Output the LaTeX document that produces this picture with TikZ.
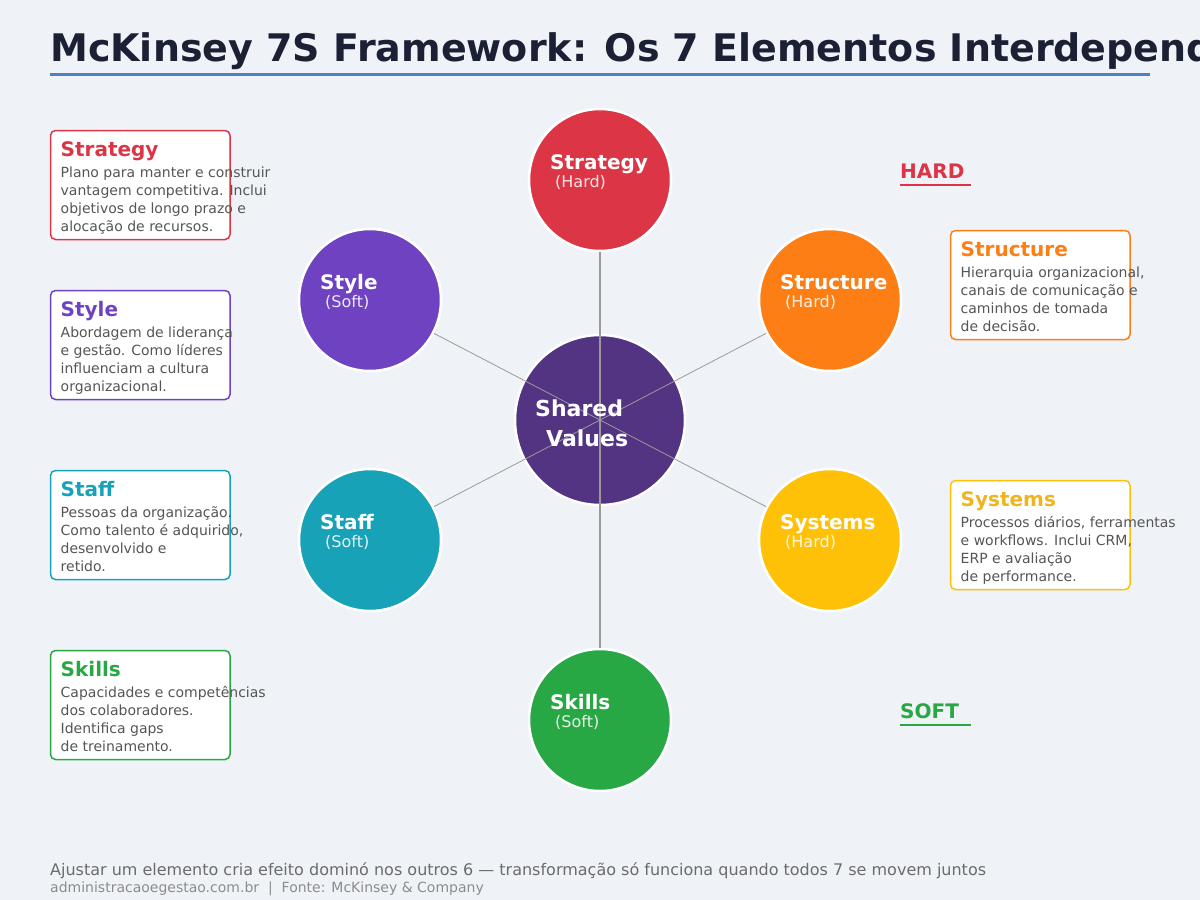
\documentclass[tikz,border=0pt]{standalone}
\usepackage{fontspec}
\setmainfont{DejaVu Sans}
\definecolor{bg}{HTML}{EFF3F8}
\definecolor{titlec}{HTML}{1C2035}
\definecolor{accent}{HTML}{5080C4}
\definecolor{cstrat}{HTML}{DC3545}
\definecolor{cstruct}{HTML}{FD7E14}
\definecolor{csys}{HTML}{FFC107}
\definecolor{csystxt}{HTML}{F0B41C}
\definecolor{cskill}{HTML}{28A745}
\definecolor{cstaff}{HTML}{17A2B8}
\definecolor{cstyle}{HTML}{6F42C1}
\definecolor{cshared}{HTML}{533483}
\definecolor{bodytxt}{HTML}{555555}
\definecolor{linec}{HTML}{9A9A9A}
\definecolor{foot1}{HTML}{6B6B6B}
\definecolor{foot2}{HTML}{8C8C8C}
\usetikzlibrary{calc}
\tikzset{
  circ/.style={circle, minimum size=142pt, inner sep=0pt, draw=white, line width=2.5pt},
  bigcirc/.style={circle, minimum size=170pt, inner sep=0pt, draw=white, line width=2.5pt, fill=cshared},
  cname/.style={anchor=base west, inner sep=0pt, text=white, font=\bfseries\fontsize{20}{24}\selectfont},
  csub/.style={anchor=base west, inner sep=0pt, text=white, text opacity=0.88, font=\fontsize{16}{19}\selectfont},
  infobox/.style={rectangle, rounded corners=5pt, fill=white, line width=1.5pt, minimum width=179.5pt, minimum height=109pt, inner sep=0pt},
  boxtitle/.style={anchor=base west, inner sep=0pt, font=\bfseries\fontsize{20}{24}\selectfont},
  boxbody/.style={anchor=base west, inner sep=0pt, align=left, text=bodytxt, font=\fontsize{14}{18}\selectfont},
  link/.style={draw=linec, line width=1.3pt},
  tag/.style={anchor=base west, inner sep=0pt, font=\bfseries\fontsize{20}{24}\selectfont},
}
\begin{document}
\begin{tikzpicture}[x=1pt,y=-1pt]
\useasboundingbox (0,0) rectangle (1200,900);
\fill[bg] (0,0) rectangle (1200,900);

% title
\node[anchor=base west, inner sep=0pt, text=titlec, font=\bfseries\fontsize{38}{44}\selectfont] (title) at (50,61) {McKinsey 7S Framework: Os 7 Elementos Interdependentes};
\draw[accent, line width=3pt] (50,74) -- (1150,74);

% center
\node[bigcirc] (shared) at (600,420) {};

% outer circles
\node[circ, fill=cstrat] (strategy) at (600,180) {};
\node[circ, fill=cstruct] (structure) at (830,300) {};
\node[circ, fill=csys] (systems) at (830,540) {};
\node[circ, fill=cskill] (skills) at (600,720) {};
\node[circ, fill=cstaff] (staff) at (370,540) {};
\node[circ, fill=cstyle] (style) at (370,300) {};

% connectors
\draw[link] (strategy) -- (skills);
\draw[link, line width=0.8pt] (style) -- (systems);
\draw[link, line width=0.8pt] (staff) -- (structure);

% circle labels
\node[cname, font=\bfseries\fontsize{22}{26}\selectfont] (shared-a) at (535,416) {Shared};
\node[cname, font=\bfseries\fontsize{22}{26}\selectfont] (shared-b) at (546,446) {Values};

\node[cname] (strategy-n) at (550,169) {Strategy};
\node[csub] (strategy-s) at (555,187) {(Hard)};
\node[cname] (structure-n) at (780,289) {Structure};
\node[csub] (structure-s) at (785,307) {(Hard)};
\node[cname] (systems-n) at (780,529) {Systems};
\node[csub] (systems-s) at (785,547) {(Hard)};
\node[cname] (skills-n) at (550,709) {Skills};
\node[csub] (skills-s) at (555,727) {(Soft)};
\node[cname] (staff-n) at (320,529) {Staff};
\node[csub] (staff-s) at (325,547) {(Soft)};
\node[cname] (style-n) at (320,289) {Style};
\node[csub] (style-s) at (325,307) {(Soft)};

% info boxes left
\node[infobox, draw=cstrat] (b-strategy) at (140.25,185) {};
\node[boxtitle, text=cstrat] (b-strategy-t) at (60.5,156) {Strategy};
\node[boxbody] (b-strategy-b) at (60.5,231.7) {Plano para manter e construir\\vantagem competitiva. Inclui\\objetivos de longo prazo e\\aloca\c{c}\~ao de recursos.};

\node[infobox, draw=cstyle] (b-style) at (140.25,345) {};
\node[boxtitle, text=cstyle] (b-style-t) at (60.5,316) {Style};
\node[boxbody] (b-style-b) at (60.5,391.7) {Abordagem de lideran\c{c}a\\e gest\~ao. Como l\'ideres\\influenciam a cultura\\organizacional.};

\node[infobox, draw=cstaff] (b-staff) at (140.25,525) {};
\node[boxtitle, text=cstaff] (b-staff-t) at (60.5,496) {Staff};
\node[boxbody] (b-staff-b) at (60.5,571.7) {Pessoas da organiza\c{c}\~ao.\\Como talento \'e adquirido,\\desenvolvido e\\retido.};

\node[infobox, draw=cskill] (b-skills) at (140.25,705) {};
\node[boxtitle, text=cskill] (b-skills-t) at (60.5,676) {Skills};
\node[boxbody] (b-skills-b) at (60.5,751.7) {Capacidades e compet\^encias\\dos colaboradores.\\Identifica gaps\\de treinamento.};

% info boxes right
\node[infobox, draw=cstruct] (b-structure) at (1040.25,285) {};
\node[boxtitle, text=cstruct] (b-structure-t) at (960.5,256) {Structure};
\node[boxbody] (b-structure-b) at (960.5,331.7) {Hierarquia organizacional,\\canais de comunica\c{c}\~ao e\\caminhos de tomada\\de decis\~ao.};

\node[infobox, draw=csys] (b-systems) at (1040.25,535) {};
\node[boxtitle, text=csystxt] (b-systems-t) at (960.5,506) {Systems};
\node[boxbody] (b-systems-b) at (960.5,581.7) {Processos di\'arios, ferramentas\\e workflows. Inclui CRM,\\ERP e avalia\c{c}\~ao\\de performance.};

% HARD / SOFT tags
\node[tag, text=cstrat] (hard) at (900,178) {HARD};
\draw[cstrat, line width=2pt] (hard.base west) ++(0,7) -- ++(70.5,0);
\node[tag, text=cskill] (soft) at (900,718) {SOFT};
\draw[cskill, line width=2pt] (soft.base west) ++(0,7) -- ++(70.5,0);

% footer
\node[anchor=base west, inner sep=0pt, text=foot1, font=\fontsize{16}{19}\selectfont] (foot-a) at (50,875) {Ajustar um elemento cria efeito domin\'o nos outros 6 --- transforma\c{c}\~ao s\'o funciona quando todos 7 se movem juntos};
\node[anchor=base west, inner sep=0pt, text=foot2, font=\fontsize{14}{17}\selectfont] (foot-b) at (50,892) {administracaoegestao.com.br\ \ |\ \ Fonte: McKinsey \& Company};
\end{tikzpicture}
\end{document}
